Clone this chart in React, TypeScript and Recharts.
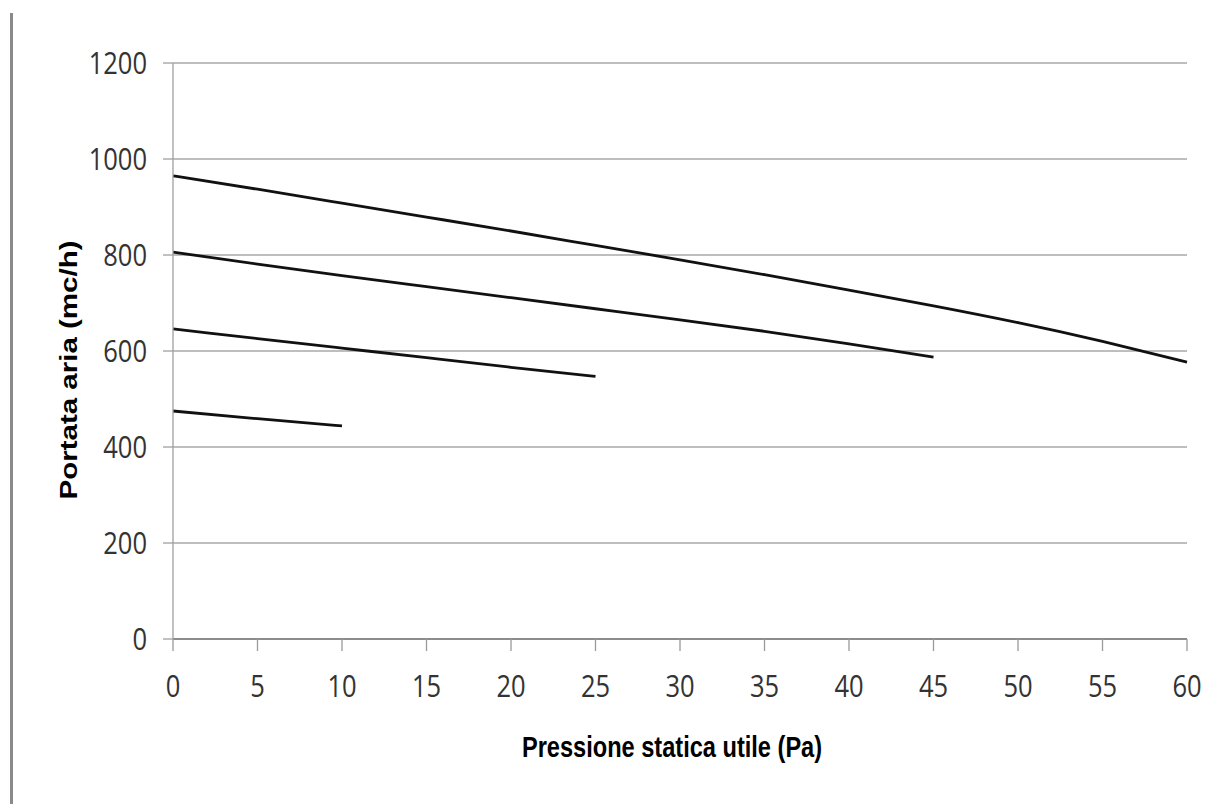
import React from "react";
import { LineChart, Line, XAxis, YAxis, CartesianGrid } from "recharts";

// Pressione statica utile (Pa) per curve
const pressureA = [0, 5, 10, 15, 20, 25, 30, 35, 40, 45, 50, 55, 60];
const flowA = [965, 937, 908, 879, 850, 820, 790, 759, 727, 694, 659, 620, 577];

const pressureB = [0, 5, 10, 15, 20, 25, 30, 35, 40, 45];
const flowB = [806, 781, 757, 734, 711, 688, 665, 641, 615, 587];

const pressureC = [0, 5, 10, 15, 20, 25];
const flowC = [646, 626, 606, 586, 566, 547];

const pressureD = [0, 5, 10];
const flowD = [475, 459, 444];

const xTicks = [0, 5, 10, 15, 20, 25, 30, 35, 40, 45, 50, 55, 60];
const yTicks = [0, 200, 400, 600, 800, 1000, 1200];

const xTitle = "Pressione statica utile (Pa)";
const yTitle = "Portata aria (mc/h)";

const toRows = (xs: number[], ys: number[]) => xs.map((x, i) => ({ x, y: ys[i] }));

const seriesA = toRows(pressureA, flowA);
const seriesB = toRows(pressureB, flowB);
const seriesC = toRows(pressureC, flowC);
const seriesD = toRows(pressureD, flowD);

const STRETCH = 1.23;
const tickFont = "'Open Sans', 'DejaVu Sans', sans-serif";
const labelFont = "'Liberation Sans', Arial, sans-serif";

const XTick = (props: any) => {
  const { x, y, payload } = props;
  return (
    <text
      transform={`translate(${x},${y}) scale(1,${STRETCH})`}
      textAnchor="middle"
      dy="0.71em"
      fontFamily={tickFont}
      fontSize={25.5}
      fill="#333"
    >
      {payload.value}
    </text>
  );
};

const YTick = (props: any) => {
  const { x, y, payload } = props;
  return (
    <text
      transform={`translate(${x},${y}) scale(1,${STRETCH})`}
      textAnchor="end"
      dy="0.36em"
      fontFamily={tickFont}
      fontSize={25.5}
      fill="#333"
    >
      {payload.value}
    </text>
  );
};

const XTitle = () => (
  <text
    transform={`translate(672,757) scale(1,${STRETCH})`}
    textAnchor="middle"
    fontFamily={labelFont}
    fontWeight="bold"
    fontSize={23.6}
    fill="#000"
  >
    {xTitle}
  </text>
);

const YTitle = () => (
  <text
    transform={`translate(69,370) scale(1,${STRETCH}) rotate(-90)`}
    textAnchor="middle"
    dominantBaseline="central"
    fontFamily={labelFont}
    fontWeight="bold"
    fontSize={24}
    fill="#000"
  >
    {yTitle}
  </text>
);

export default function App() {
  return (
    <div style={{ position: "absolute", left: 0, top: 0, width: 1219, height: 804, background: "#fff" }}>
      <div
        style={{
          position: "absolute",
          left: 10,
          top: 13,
          width: 3,
          height: 791,
          background: "#8a8a8a",
        }}
      />
      <LineChart
        width={1219}
        height={804}
        margin={{ top: 63, right: 32, bottom: 0, left: 0 }}
      >
        <CartesianGrid vertical={false} stroke="#a8a8a8" strokeWidth={1.3} />
        <XAxis
          dataKey="x"
          type="number"
          domain={[0, 60]}
          ticks={xTicks}
          interval={0}
          height={165}
          tickSize={12}
          tickMargin={24}
          tick={<XTick />}
          axisLine={{ stroke: "#8c8c8c", strokeWidth: 2 }}
          tickLine={{ stroke: "#9a9a9a", strokeWidth: 1.3 }}
          label={<XTitle />}
          allowDuplicatedCategory={false}
        />
        <YAxis
          type="number"
          domain={[0, 1200]}
          ticks={yTicks}
          interval={0}
          width={173}
          tickSize={10}
          tickMargin={16}
          tick={<YTick />}
          axisLine={{ stroke: "#a0a0a0", strokeWidth: 1.3 }}
          tickLine={{ stroke: "#a0a0a0", strokeWidth: 1.3 }}
          label={<YTitle />}
        />
        <Line data={seriesA} dataKey="y" type="natural" stroke="#111" strokeWidth={2.8} dot={false} isAnimationActive={false} />
        <Line data={seriesB} dataKey="y" type="natural" stroke="#111" strokeWidth={2.8} dot={false} isAnimationActive={false} />
        <Line data={seriesC} dataKey="y" type="natural" stroke="#111" strokeWidth={2.8} dot={false} isAnimationActive={false} />
        <Line data={seriesD} dataKey="y" type="natural" stroke="#111" strokeWidth={2.8} dot={false} isAnimationActive={false} />
      </LineChart>
    </div>
  );
}
